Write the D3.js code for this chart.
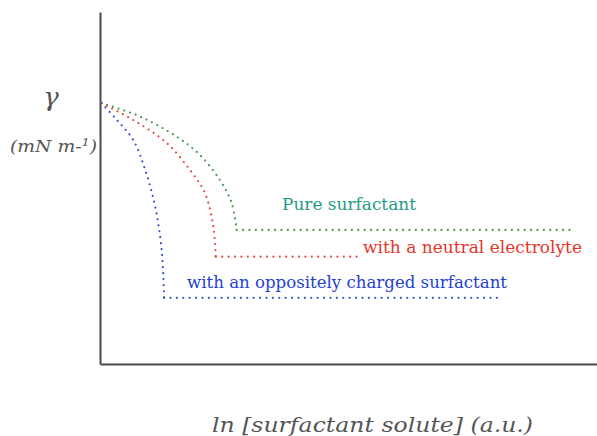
<!DOCTYPE html>
<html>
<head>
<meta charset="utf-8">
<script src="https://cdn.jsdelivr.net/npm/d3@7"></script>
<style>
  html, body { margin: 0; padding: 0; background: #fff; }
  svg { display: block; }
  text { font-family: "DejaVu Serif", "Liberation Serif", "Times New Roman", serif; }
</style>
</head>
<body>
<svg id="chart" width="597" height="436"></svg>
<script>
// ---- data (arbitrary units: x = ln[c], y = surface tension) ----
const seriesNames = ["Pure surfactant", "with a neutral electrolyte", "with an oppositely charged surfactant"];
const pureX    = [0.3, 8.05, 15.4, 20.1, 24.1, 26.5, 27.5];
const pureY    = [74.1, 70.3, 64.6, 59.4, 52.3, 45.7, 38.1];
const pureEndX = 95.6;
const neutralX    = [0.3, 6.7, 13.4, 18.1, 21.1, 22.8, 23.3];
const neutralY    = [74.1, 69.3, 62.8, 55.1, 48.6, 39.0, 30.5];
const neutralEndX = 52.7;
const oppX    = [0.3, 3.4, 6.7, 9.1, 11.1, 12.4, 12.9];
const oppY    = [74.1, 69.3, 63.6, 55.1, 44.7, 32.4, 18.8];
const oppEndX = 80.5;
const xLabel = "ln [surfactant solute] (a.u.)";
const yLabel = "γ";
const yUnit  = "(mN m-";
const yUnitSup = "1";

const svg = d3.select("#chart");
const x = d3.scaleLinear().domain([0, 100]).range([100, 597]);
const y = d3.scaleLinear().domain([0, 100]).range([364, 12]);

const series = [
  { name: seriesNames[0], xs: pureX, ys: pureY, endX: pureEndX, dot: "#3f9a45", text: "#1f9a86",
    tx: 282, ty: 210, tlen: 134 },
  { name: seriesNames[1], xs: neutralX, ys: neutralY, endX: neutralEndX, dot: "#e4473c", text: "#e8352b",
    tx: 363, ty: 253, tlen: 219 },
  { name: seriesNames[2], xs: oppX, ys: oppY, endX: oppEndX, dot: "#3550cc", text: "#2440d2",
    tx: 187, ty: 288, tlen: 320 }
];

// axes (plain lines, no ticks)
const xAxis = d3.axisBottom(x).tickValues([]).tickSizeOuter(0);
const yAxis = d3.axisLeft(y).tickValues([]).tickSizeOuter(0);
svg.append("g").attr("transform", `translate(0,${y(0)})`).call(xAxis)
  .select(".domain").attr("stroke", "#4a4a4a").attr("stroke-width", 2);
svg.append("g").attr("transform", `translate(${x(0)},0)`).call(yAxis)
  .select(".domain").attr("stroke", "#4a4a4a").attr("stroke-width", 2);

const curveLine = d3.line().x(d => x(d[0])).y(d => y(d[1])).curve(d3.curveCatmullRom.alpha(0.5));
const flatLine = d3.line().x(d => x(d[0])).y(d => y(d[1]));

series.forEach(s => {
  const pts = s.xs.map((v, i) => [v, s.ys[i]]);
  const last = pts[pts.length - 1];
  const g = svg.append("g");
  g.append("path").attr("d", curveLine(pts))
    .attr("fill", "none").attr("stroke", s.dot).attr("stroke-width", 2.2)
    .attr("stroke-linecap", "round").attr("stroke-dasharray", "0 6");
  g.append("path").attr("d", flatLine([last, [s.endX, last[1]]]))
    .attr("fill", "none").attr("stroke", s.dot).attr("stroke-width", 2.2)
    .attr("stroke-linecap", "round").attr("stroke-dasharray", "0 6.4");
  svg.append("text").attr("x", s.tx).attr("y", s.ty)
    .style("font-size", "17px").attr("fill", s.text)
    .attr("textLength", s.tlen).attr("lengthAdjust", "spacingAndGlyphs")
    .text(s.name);
});

// y label
svg.append("text").attr("x", 51).attr("y", 106).attr("text-anchor", "middle")
  .style("font-style", "italic").style("font-size", "26px").attr("fill", "#555").text(yLabel);
const yu = svg.append("text").attr("x", 10).attr("y", 152)
  .style("font-style", "italic").style("font-size", "16px").attr("fill", "#555")
  .attr("textLength", 87).attr("lengthAdjust", "spacingAndGlyphs");
yu.append("tspan").text(yUnit);
yu.append("tspan").attr("dy", -6).style("font-size", "11px").text(yUnitSup);
yu.append("tspan").attr("dy", 6).text(")");

// x label
svg.append("text").attr("x", 212).attr("y", 432)
  .style("font-style", "italic").style("font-size", "21px").attr("fill", "#555")
  .attr("textLength", 321).attr("lengthAdjust", "spacingAndGlyphs")
  .text(xLabel);
</script>
</body>
</html>
